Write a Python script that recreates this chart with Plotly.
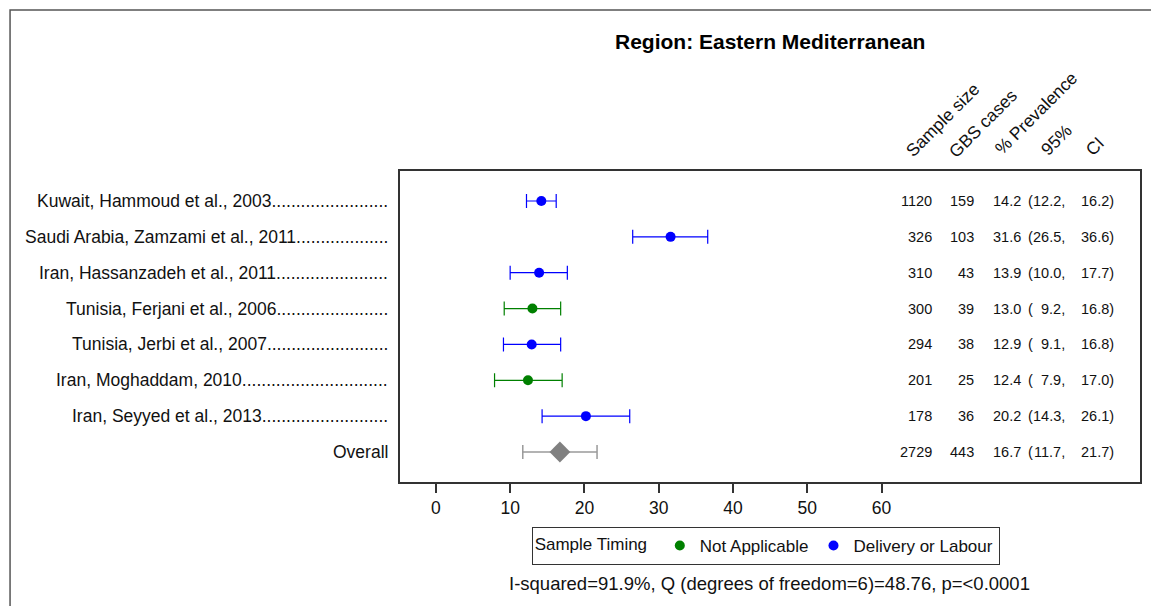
import plotly.graph_objects as go

# Study-level prevalence estimates (percent) with 95% confidence limits
studies = [
    "Kuwait, Hammoud et al., 2003",
    "Saudi Arabia, Zamzami et al., 2011",
    "Iran, Hassanzadeh et al., 2011",
    "Tunisia, Ferjani et al., 2006",
    "Tunisia, Jerbi et al., 2007",
    "Iran, Moghaddam, 2010",
    "Iran, Seyyed et al., 2013",
]
leader_dots = [24, 19, 23, 23, 25, 30, 26]
sample_size = [1120, 326, 310, 300, 294, 201, 178]
gbs_cases = [159, 103, 43, 39, 38, 25, 36]
prevalence = [14.2, 31.6, 13.9, 13.0, 12.9, 12.4, 20.2]
ci_lower = [12.2, 26.5, 10.0, 9.2, 9.1, 7.9, 14.3]
ci_upper = [16.2, 36.6, 17.7, 16.8, 16.8, 17.0, 26.1]
timing = ["Delivery or Labour", "Delivery or Labour", "Delivery or Labour",
          "Not Applicable", "Delivery or Labour", "Not Applicable",
          "Delivery or Labour"]

# Pooled estimate
overall_label = "Overall"
overall_n = 2729
overall_cases = 443
overall_prev = 16.7
overall_lower = 11.7
overall_upper = 21.7

x_ticks = [0, 10, 20, 30, 40, 50, 60]
headers = ["Sample size", "GBS cases", "% Prevalence", "95%", "CI"]
heterogeneity = "I-squared=91.9%, Q (degrees of freedom=6)=48.76, p=<0.0001"
title_text = "Region: Eastern Mediterranean"

timing_colors = {"Not Applicable": "#008000", "Delivery or Labour": "#0000FF"}

W, H = 1151, 606
L, R, T, B = 400, 1142, 171, 482
FONT = "Liberation Sans, Arial, sans-serif"
TXT = "#111111"


def px(x):
    return (x - L) / (R - L)


def py(y):
    return (B - y) / (B - T)


rows = list(range(1, len(studies) + 1))
overall_row = len(studies) + 1

fig = go.Figure()

for grp in ["Not Applicable", "Delivery or Labour"]:
    idx = [i for i, t in enumerate(timing) if t == grp]
    col = timing_colors[grp]
    fig.add_trace(go.Scatter(
        x=[prevalence[i] for i in idx],
        y=[rows[i] for i in idx],
        mode="markers",
        name=grp,
        marker=dict(color=col, size=10, symbol="circle"),
        error_x=dict(
            type="data", symmetric=False,
            array=[ci_upper[i] - prevalence[i] for i in idx],
            arrayminus=[prevalence[i] - ci_lower[i] for i in idx],
            color=col, thickness=1.2, width=7,
        ),
    ))

fig.add_trace(go.Scatter(
    x=[overall_prev], y=[overall_row], mode="markers", showlegend=False,
    marker=dict(color="#808080", size=16, symbol="diamond"),
    error_x=dict(type="data", symmetric=False,
                 array=[overall_upper - overall_prev],
                 arrayminus=[overall_prev - overall_lower],
                 color="#9a9a9a", thickness=1.5, width=7),
))

ann = []
lfont = dict(size=17.5, color=TXT, family=FONT)
# Row labels with dot leaders
for r, s, d in zip(rows, studies, leader_dots):
    ann.append(dict(x=px(390), y=r, xref="paper", yref="y", text=s + "." * d,
                    xanchor="right", yanchor="middle", showarrow=False,
                    font=lfont))
ann.append(dict(x=px(390), y=overall_row, xref="paper", yref="y",
                text=overall_label, xanchor="right", yanchor="middle",
                showarrow=False, font=lfont))


def fmt(v):
    return f"{v:.1f}"


# Statistics columns
all_n = sample_size + [overall_n]
all_c = gbs_cases + [overall_cases]
all_p = prevalence + [overall_prev]
all_lo = ci_lower + [overall_lower]
all_hi = ci_upper + [overall_upper]
nfont = dict(size=14.5, color=TXT, family=FONT)
for r, n, c, p, lo, hi in zip(rows + [overall_row], all_n, all_c, all_p,
                              all_lo, all_hi):
    for xpix, txt, anch in [(935, str(n), "right"), (978, str(c), "right"),
                            (1025, fmt(p), "right"), (1028, "(", "left"),
                            (1069, fmt(lo) + ",", "right"),
                            (1118, fmt(hi) + ")", "right")]:
        ann.append(dict(x=px(xpix), y=r, xref="paper", yref="y", text=txt,
                        xanchor=anch, yanchor="middle", showarrow=False,
                        font=nfont))

# Rotated column headers
hdr_pos = [(944, 120), (985, 123), (1038, 113), (1058, 140), (1097, 146)]
for h, (hx, hy) in zip(headers, hdr_pos):
    ann.append(dict(x=px(hx), y=py(hy), xref="paper", yref="paper", text=h,
                    textangle=-45, xanchor="center", yanchor="middle",
                    showarrow=False, font=lfont))

ann.append(dict(x=px(771), y=py(41), xref="paper", yref="paper",
                text="<b>" + title_text + "</b>", xanchor="center",
                yanchor="middle", showarrow=False,
                font=dict(size=21, color="#000", family=FONT)))
ann.append(dict(x=px(770), y=py(583), xref="paper", yref="paper",
                text=heterogeneity, xanchor="center", yanchor="middle",
                showarrow=False, font=dict(size=18.5, color=TXT, family=FONT)))

shapes = [dict(type="rect", xref="paper", yref="paper",
               x0=px(9), x1=px(1170), y0=py(10), y1=py(640),
               line=dict(color="#555", width=1.5), fillcolor="rgba(0,0,0,0)")]

fig.update_layout(
    width=W, height=H,
    margin=dict(l=L, r=W - R, t=T, b=H - B),
    paper_bgcolor="white", plot_bgcolor="white",
    font=dict(family=FONT, size=17, color=TXT),
    annotations=ann, shapes=shapes,
    showlegend=True,
    legend=dict(
        orientation="h", x=px(532), y=py(546), xanchor="left",
        yanchor="middle",
        bordercolor="#333", borderwidth=1, bgcolor="white",
        title=dict(text="Sample Timing ", side="left",
                   font=dict(size=17, color=TXT, family=FONT)),
        font=dict(size=17, color=TXT, family=FONT),
        itemwidth=30, tracegroupgap=0,
    ),
    xaxis=dict(range=[-4.83, 94.8], tickvals=x_ticks, ticks="outside",
               ticklen=9, tickwidth=1.5, tickcolor="#333", showgrid=False,
               zeroline=False, showline=True, linecolor="#333", linewidth=1.5,
               mirror=True, tickfont=dict(size=17.5, color=TXT, family=FONT)),
    yaxis=dict(range=[overall_row + 0.837, 0.163], showticklabels=False,
               ticks="", showgrid=False, zeroline=False, showline=True,
               linecolor="#333", linewidth=1.5, mirror=True),
)

fig.write_html("out.html")
